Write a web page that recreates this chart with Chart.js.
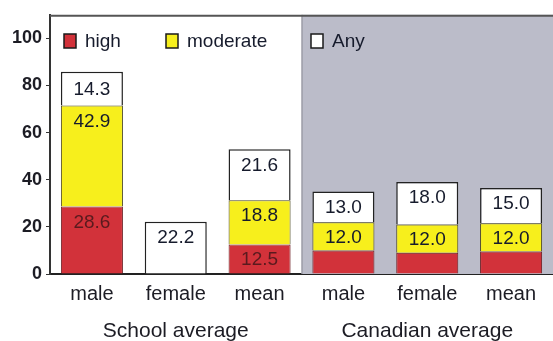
<!DOCTYPE html>
<html>
<head>
<meta charset="utf-8">
<script src="https://cdn.jsdelivr.net/npm/chart.js@4.4.1/dist/chart.umd.min.js"></script>
<style>
  html, body { margin: 0; padding: 0; background: #ffffff; }
  #wrap { width: 553px; height: 341px; position: relative; }
</style>
</head>
<body>
<div id="wrap"><canvas id="chart" width="553" height="341"></canvas></div>
<script>
// Categories and groups
const categories = ['male', 'female', 'mean', 'male', 'female', 'mean'];
const groups = [
  { label: 'School average', from: 0, to: 2 },
  { label: 'Canadian average', from: 3, to: 5 }
];

// Series values (percent)
const highValues     = [28.6, 0, 12.5, 10, 9, 9.5];
const moderateValues = [42.9, 0, 18.8, 12.0, 12.0, 12.0];
const anyValues      = [14.3, 22.2, 21.6, 13.0, 18.0, 15.0];

// Which "high" values are printed on their bars
const highLabeled = [true, false, true, false, false, false];

// Y axis tick values
const yTicks = [0, 20, 40, 60, 80, 100];
const yMax = 110;

const FONT = '"Liberation Sans", Arial, Helvetica, sans-serif';

// Shaded panel behind the Canadian group
const panelPlugin = {
  id: 'panel',
  beforeDatasetsDraw(chart) {
    const { ctx, chartArea, scales: { x } } = chart;
    const g = groups[1];
    const left = (x.getPixelForValue(g.from - 1) + x.getPixelForValue(g.from)) / 2;
    ctx.save();
    ctx.fillStyle = '#bbbcc9';
    ctx.fillRect(left, chartArea.top, chartArea.right - left, chartArea.bottom - chartArea.top);
    ctx.strokeStyle = '#8c8c96';
    ctx.lineWidth = 1;
    ctx.beginPath();
    ctx.moveTo(left + 0.5, chartArea.top);
    ctx.lineTo(left + 0.5, chartArea.bottom);
    ctx.stroke();
    // top frame line
    ctx.strokeStyle = '#555555';
    ctx.lineWidth = 2;
    ctx.beginPath();
    ctx.moveTo(chartArea.left, chartArea.top + 1);
    ctx.lineTo(chartArea.right, chartArea.top + 1);
    ctx.stroke();
    ctx.restore();
  }
};

// Values printed on the bar segments and group captions
const labelPlugin = {
  id: 'valueLabels',
  afterDatasetsDraw(chart) {
    const { ctx, scales: { x } } = chart;
    ctx.save();
    ctx.textAlign = 'center';
    ctx.textBaseline = 'middle';
    ctx.font = '19px ' + FONT;
    chart.data.datasets.forEach((ds, di) => {
      const meta = chart.getDatasetMeta(di);
      meta.data.forEach((bar, i) => {
        const v = ds.data[i];
        if (!v) return;
        if (di === 0 && !highLabeled[i]) return;
        const segH = bar.base - bar.y;
        const yPos = segH < 34 ? bar.y + segH / 2 + 1 : bar.y + 16;
        ctx.fillStyle = di === 0 ? '#5a1a1e' : '#161b2c';
        ctx.fillText(v.toFixed(1), bar.x, yPos);
      });
    });
    // group captions
    ctx.font = '21px ' + FONT;
    ctx.fillStyle = '#1c1c24';
    groups.forEach(g => {
      const cx = (x.getPixelForValue(g.from) + x.getPixelForValue(g.to)) / 2;
      ctx.fillText(g.label, cx, 331);
    });
    ctx.restore();
  }
};

// Legend drawn inside the plot area
const legendPlugin = {
  id: 'innerLegend',
  afterDatasetsDraw(chart) {
    const { ctx, chartArea } = chart;
    const offsets = [14, 116, 261];
    ctx.save();
    ctx.font = '19px ' + FONT;
    ctx.textBaseline = 'middle';
    ctx.textAlign = 'left';
    chart.data.datasets.forEach((ds, di) => {
      const sx = chartArea.left + offsets[di];
      const sy = 34;
      ctx.fillStyle = ds.backgroundColor;
      ctx.fillRect(sx, sy, 12, 14);
      ctx.strokeStyle = '#1a1a1a';
      ctx.lineWidth = 1.5;
      ctx.strokeRect(sx, sy, 12, 14);
      ctx.fillStyle = '#161b2c';
      ctx.fillText(ds.label, sx + 21, sy + 8);
    });
    ctx.restore();
  }
};

new Chart(document.getElementById('chart'), {
  type: 'bar',
  data: {
    labels: categories,
    datasets: [
      { label: 'high', data: highValues, backgroundColor: '#d2323a', borderColor: '#6e2024', borderWidth: 1 },
      { label: 'moderate', data: moderateValues, backgroundColor: '#f7ef1c', borderColor: '#4a4520', borderWidth: 1 },
      { label: 'Any', data: anyValues, backgroundColor: '#ffffff', borderColor: '#222222', borderWidth: 1.5 }
    ]
  },
  options: {
    responsive: false,
    animation: false,
    devicePixelRatio: 1,
    layout: { padding: { top: 13, right: 0, left: 0, bottom: 0 } },
    datasets: { bar: { barPercentage: 0.74, categoryPercentage: 1.0 } },
    plugins: { legend: { display: false }, tooltip: { enabled: false } },
    scales: {
      x: {
        stacked: true,
        grid: { display: false },
        border: { display: true, color: '#222222', width: 2 },
        ticks: { color: '#1c1c24', font: { family: FONT, size: 20 }, padding: 0, maxRotation: 0 },
        afterFit(scale) { scale.height = 67; }
      },
      y: {
        stacked: true,
        min: 0,
        max: yMax,
        grid: { drawOnChartArea: false, drawTicks: true, tickLength: 4, color: '#333333' },
        border: { display: true, color: '#333333', width: 2 },
        ticks: {
          color: '#1c1c24',
          font: { family: FONT, size: 18, weight: 'bold' },
          padding: 4
        },
        afterBuildTicks(scale) { scale.ticks = yTicks.map(v => ({ value: v })); },
        afterFit(scale) { scale.width = 50; }
      }
    }
  },
  plugins: [panelPlugin, labelPlugin, legendPlugin]
});
</script>
</body>
</html>
